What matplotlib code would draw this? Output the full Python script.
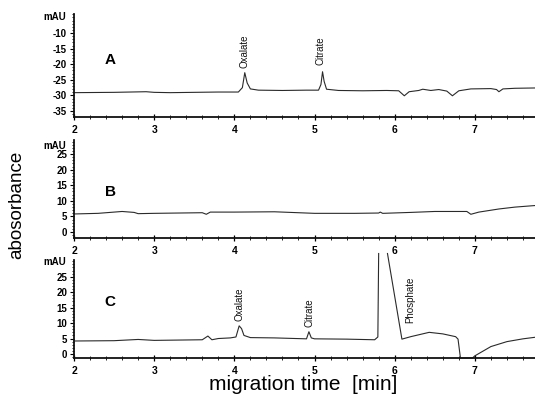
import matplotlib
matplotlib.use("Agg")
import matplotlib.pyplot as plt
from matplotlib.ticker import MultipleLocator
from matplotlib.transforms import blended_transform_factory

plt.rcParams['font.family'] = ['Liberation Sans', 'DejaVu Sans']

NaN = float('nan')

# ---- data ----
tA = [2.00, 2.50, 2.90, 3.00, 3.20, 3.50, 3.80, 4.05, 4.10, 4.13, 4.16, 4.20, 4.30, 4.60,
      4.90, 5.05, 5.08, 5.10, 5.12, 5.15, 5.30, 5.60, 5.90, 6.05, 6.12, 6.18, 6.30, 6.35,
      6.45, 6.55, 6.65, 6.72, 6.80, 6.95, 7.20, 7.27, 7.30, 7.35, 7.50, 7.75]
yA = [-29.1, -29.0, -28.8, -29.0, -29.1, -29.0, -28.9, -28.9, -27.5, -22.7, -26.0, -27.9, -28.3, -28.4,
      -28.3, -28.3, -26.5, -22.4, -25.5, -28.0, -28.4, -28.5, -28.4, -28.5, -30.1, -28.8, -28.4, -28.0,
      -28.4, -28.1, -28.6, -30.1, -28.5, -27.9, -27.8, -28.1, -28.8, -27.9, -27.7, -27.6]

tB = [2.00, 2.30, 2.60, 2.75, 2.80, 3.00, 3.30, 3.60, 3.65, 3.70, 4.00, 4.50, 4.80, 5.00,
      5.20, 5.50, 5.80, 5.82, 5.85, 6.20, 6.50, 6.90, 6.95, 7.05, 7.30, 7.50, 7.75]
yB = [5.8, 6.0, 6.6, 6.3, 5.9, 6.0, 6.1, 6.2, 5.7, 6.4, 6.4, 6.5, 6.2, 6.0,
      6.0, 6.0, 6.1, 6.4, 6.0, 6.3, 6.6, 6.6, 5.7, 6.4, 7.4, 8.0, 8.5]

# off-scale phosphate peak: the trace leaves the top of the panel (NaN = not drawn)
tC = [2.00, 2.50, 2.80, 3.00, 3.30, 3.60, 3.67, 3.72, 3.80, 3.95, 4.02, 4.06, 4.09, 4.12,
      4.20, 4.50, 4.90, 4.93, 4.96, 5.00, 5.40, 5.75, 5.79, 5.80, 5.85, 5.91, 6.09, 6.20,
      6.43, 6.60, 6.76, 6.79, 6.82, 6.97, 7.00, 7.20, 7.40, 7.60, 7.75]
yC = [4.2, 4.3, 4.7, 4.4, 4.5, 4.6, 5.8, 4.6, 5.0, 5.2, 5.5, 9.1, 8.2, 6.0,
      5.3, 5.2, 4.9, 7.2, 5.2, 4.9, 4.8, 4.6, 5.5, 32.5, NaN, 32.5, 4.8, 5.6,
      7.0, 6.5, 5.6, 4.8, -1.3, -1.3, -0.6, 2.4, 4.0, 4.9, 5.4]

ticksA = [-10, -15, -20, -25, -30, -35]
ticksB = [0, 5, 10, 15, 20, 25]
ticksC = [0, 5, 10, 15, 20, 25]
xticks = [2, 3, 4, 5, 6, 7]

W, H = 535, 397
fig = plt.figure(figsize=(W / 100, H / 100), dpi=100)

def make_ax(top_px, bot_px):
    left = 74 / W
    return fig.add_axes([left, 1 - bot_px / H, 1 - left, (bot_px - top_px) / H])

axA = make_ax(14, 117)
axB = make_ax(140, 238)
axC = make_ax(260, 358)

panels = [
    (axA, tA, yA, (-36.9, -3.9), ticksA, 'A', -18.7, -5.0),
    (axB, tB, yB, (-1.9, 29.5), ticksB, 'B', 12.8, 27.7),
    (axC, tC, yC, (-1.3, 30.4), ticksC, 'C', 16.8, 29.6),
]

for ax, t, y, ylim, yt, letter, ly, mau_y in panels:
    ax.plot(t, y, color='#2a2a2a', lw=0.8, clip_on=(letter != 'C'))
    ax.set_xlim(2, 7.75)
    ax.set_ylim(*ylim)
    ax.patch.set_alpha(0)
    for s in ['top', 'right']:
        ax.spines[s].set_visible(False)
    for s in ['left', 'bottom']:
        ax.spines[s].set_linewidth(1.3)
        ax.spines[s].set_color('#111111')
    ax.set_yticks(yt)
    ax.set_yticklabels([str(v) for v in yt])
    ax.yaxis.set_minor_locator(MultipleLocator(1))
    ax.set_xticks(xticks)
    ax.set_xticklabels([str(v) for v in xticks])
    ax.xaxis.set_minor_locator(MultipleLocator(0.2))
    ax.tick_params(axis='y', which='major', direction='out', length=3, width=0.8,
                   pad=2, labelsize=7)
    ax.tick_params(axis='y', which='minor', direction='out', length=1.5, width=0.6)
    ax.tick_params(axis='x', which='major', direction='inout', length=5, width=0.9,
                   pad=3, labelsize=7.5)
    ax.tick_params(axis='x', which='minor', direction='inout', length=2.5, width=0.6)
    for lab in ax.get_xticklabels() + ax.get_yticklabels():
        lab.set_fontweight('bold')
    ax.text(2.45, ly, letter, fontsize=11, fontweight='bold', ha='center', va='center')
    tr = blended_transform_factory(ax.transAxes, ax.transData)
    ax.text(-0.018, mau_y, 'mAU', transform=tr, fontsize=7, fontweight='bold',
            ha='right', va='center')

ann = dict(rotation=90, fontsize=7, ha='center', va='bottom', color='#111111')
axA.text(4.13, -21.2, 'Oxalate', **ann)
axA.text(5.08, -20.3, 'Citrate', **ann)
axC.text(4.06, 10.8, 'Oxalate', **ann)
axC.text(4.94, 8.7, 'Citrate', **ann)
axC.text(6.20, 10.0, 'Phosphate', **ann)

fig.text(17 / W, 1 - 205 / H, 'abosorbance', rotation=90, fontsize=13.5,
         ha='center', va='center')
fig.text(303 / W, 1 - 384 / H, 'migration time  [min]', fontsize=15,
         ha='center', va='center')

fig.savefig('out.png', dpi=100)
